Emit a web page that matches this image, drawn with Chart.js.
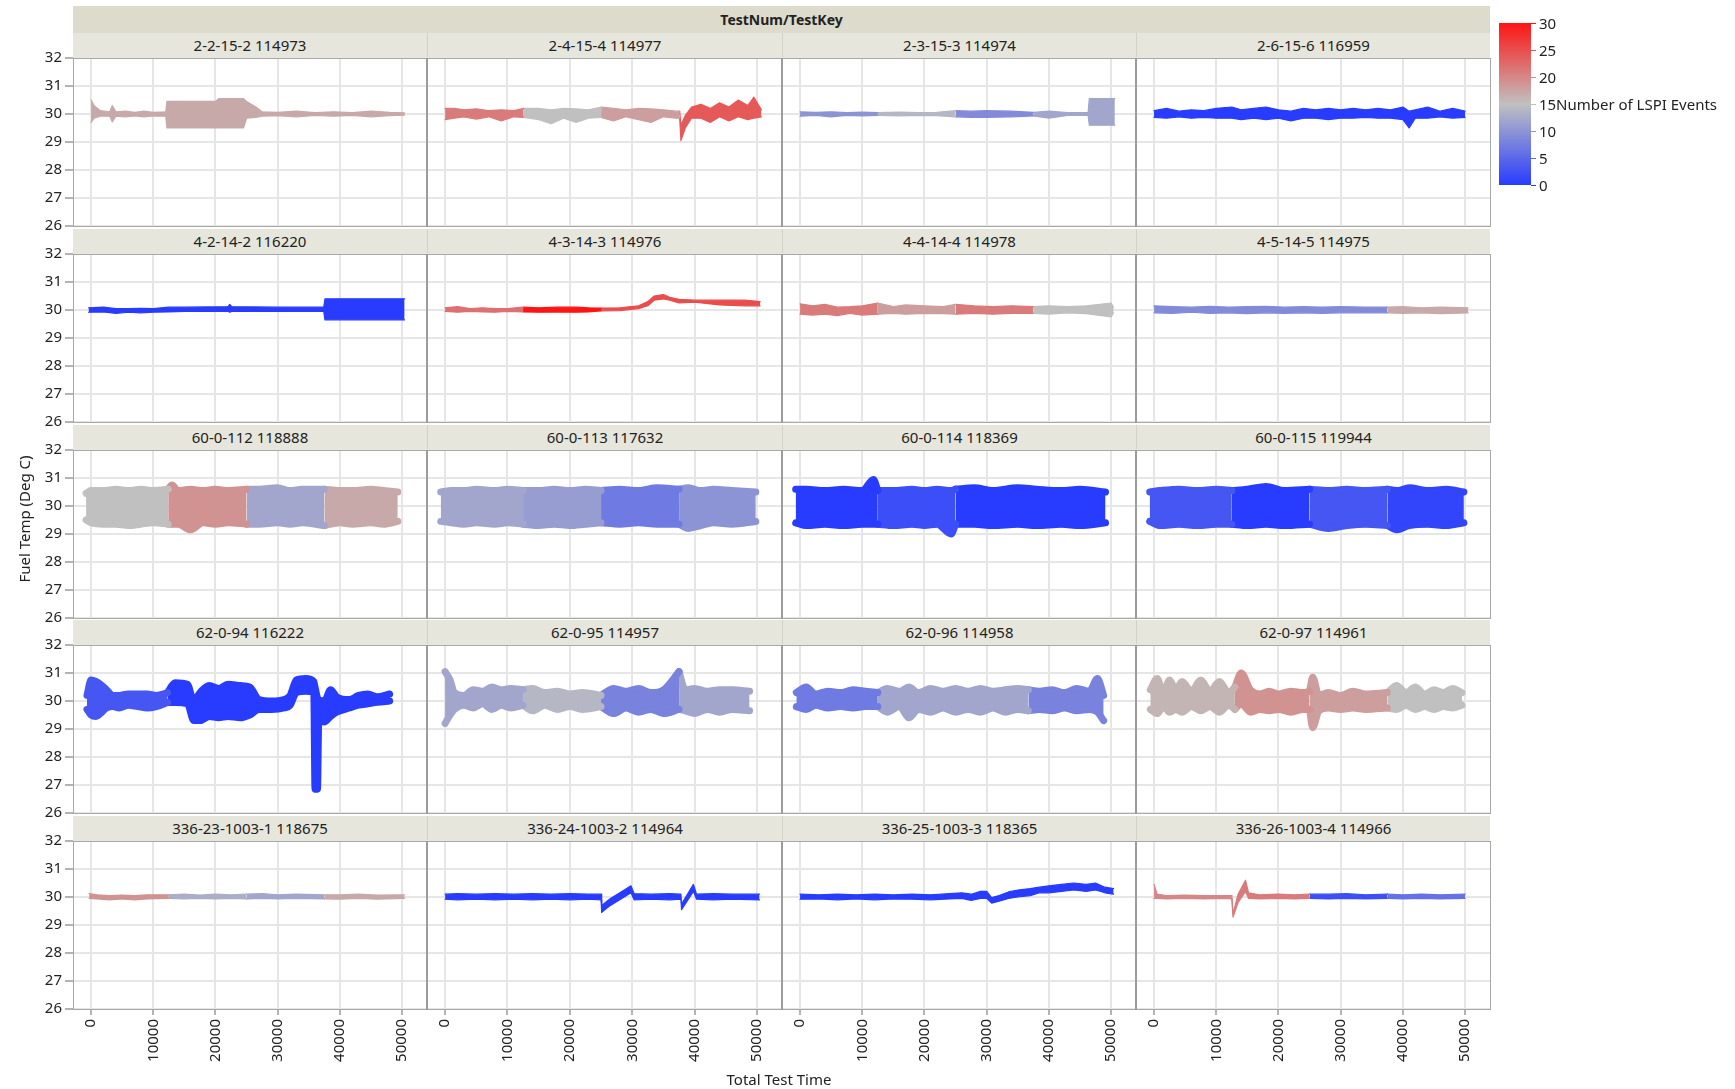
<!DOCTYPE html>
<html>
<head>
<meta charset="utf-8">
<title>Fuel Temp vs Total Test Time</title>
<script src="https://cdn.jsdelivr.net/npm/chart.js@4.4.0/dist/chart.umd.min.js"></script>
<style>
  body { margin: 0; width: 1735px; height: 1089px; overflow: hidden; position: relative; background: #fff;
         font-family: 'Noto Sans', 'Open Sans', sans-serif; color: #222; }
  .abs { position: absolute; box-sizing: border-box; }
  .header { background: #dcdbcc; font-weight: bold; font-size: 14px; text-align: center; }
  .band { background: #e6e6dd; font-size: 15px; text-align: center; white-space: nowrap; }
  .frame { border: 1px solid #a8a8a8; pointer-events: none; }
  .sep { background: #9c9c9c; }
  .lbl { font-size: 15px; white-space: nowrap; }
</style>
</head>
<body>
<script>
// ---- axes / legend ----
const xTicks = [0, 10000, 20000, 30000, 40000, 50000];
const yTicks = [26, 27, 28, 29, 30, 31, 32];
const legendTicks = [0, 5, 10, 15, 20, 25, 30];

const panelTitles = [
  '2-2-15-2 114973', '2-4-15-4 114977', '2-3-15-3 114974', '2-6-15-6 116959',
  '4-2-14-2 116220', '4-3-14-3 114976', '4-4-14-4 114978', '4-5-14-5 114975',
  '60-0-112 118888', '60-0-113 117632', '60-0-114 118369', '60-0-115 119944',
  '62-0-94 116222', '62-0-95 114957', '62-0-96 114958', '62-0-97 114961',
  '336-23-1003-1 118675', '336-24-1003-2 114964', '336-25-1003-3 118365', '336-26-1003-4 114966'
];

// ---- per panel: time, upper / lower fuel temp, LSPI run cut times, LSPI count per run ----
const t01 = [0,500,1500,3000,3400,4000,5500,7000,8500,10000,12000,12200,20000,20500,24500,25000,26500,27500,30000,33000,36000,39000,42000,45000,48000,50400];
const hi01 = [30.5,30.3,30.12,30.08,30.3,30.08,30.1,30.06,30.1,30.06,30.08,30.45,30.45,30.55,30.55,30.45,30.25,30.08,30.06,30.1,30.05,30.08,30.05,30.1,30.06,30.04];
const lo01 = [29.7,29.85,29.92,29.92,29.72,29.92,29.9,29.93,29.9,29.93,29.92,29.5,29.5,29.5,29.5,29.85,29.88,29.92,29.94,29.9,29.95,29.92,29.95,29.9,29.94,29.96];
const cut01 = [], ev01 = [17];

const t02 = [0,1500,3000,5000,7000,9000,11000,12600,15000,17000,19000,21000,23000,25000,27000,29000,31000,33000,35000,37000,37600,37800,38500,39500,41000,42500,44000,45500,47000,48500,49500,50700];
const hi02 = [30.2,30.2,30.15,30.18,30.12,30.15,30.12,30.2,30.2,30.15,30.2,30.18,30.15,30.25,30.2,30.15,30.2,30.18,30.15,30.1,30.1,29.6,29.95,30.25,30.35,30.2,30.4,30.25,30.5,30.3,30.6,30.15];
const lo02 = [29.8,29.85,29.9,29.82,29.9,29.75,29.9,29.88,29.8,29.65,29.85,29.7,29.85,29.88,29.75,29.9,29.8,29.7,29.9,29.85,29.85,29.05,29.5,29.85,29.85,29.7,29.9,29.75,29.9,29.8,29.85,29.9];
const cut02 = [12600, 25000, 37600], ev02 = [21, 15, 18, 24];

const t03 = [0,2500,5000,7500,10000,12500,16000,19000,22000,25000,27500,30000,34000,37500,40000,43000,46300,46500,50600];
const hi03 = [30.08,30.06,30.08,30.05,30.07,30.05,30.07,30.05,30.06,30.12,30.1,30.12,30.1,30.06,30.1,30.05,30.05,30.55,30.55];
const lo03 = [29.92,29.95,29.9,29.95,29.93,29.95,29.93,29.95,29.94,29.9,29.88,29.88,29.9,29.93,29.85,29.95,29.95,29.6,29.6];
const cut03 = [12500, 25000, 37500], ev03 = [10, 14, 9, 12];

const t04 = [0,2000,4000,6000,8000,10000,12500,14000,16000,18000,20000,22000,24000,26000,28000,30000,32000,34000,36000,38000,40000,41000,42000,44000,46000,48000,50000];
const hi04 = [30.12,30.2,30.1,30.15,30.12,30.2,30.25,30.15,30.2,30.25,30.15,30.1,30.2,30.15,30.2,30.15,30.2,30.15,30.2,30.15,30.25,30.1,30.15,30.25,30.1,30.2,30.1];
const lo04 = [29.88,29.85,29.9,29.85,29.88,29.85,29.85,29.8,29.85,29.8,29.85,29.75,29.85,29.85,29.8,29.85,29.85,29.88,29.85,29.85,29.8,29.5,29.85,29.85,29.9,29.85,29.88];
const cut04 = [], ev04 = [0];

const t05 = [-400,2000,4000,6000,8000,10000,12500,15000,22000,22300,22600,30000,37400,37600,50400];
const hi05 = [30.08,30.1,30.05,30.05,30.06,30.05,30.1,30.1,30.12,30.2,30.12,30.1,30.1,30.4,30.4];
const lo05 = [29.92,29.93,29.88,29.92,29.9,29.92,29.93,29.95,29.95,29.92,29.95,29.95,29.95,29.65,29.65];
const cut05 = [], ev05 = [0];

const t06 = [0,2000,4000,6000,8000,10000,12500,15000,18000,21000,23000,25000,28000,31000,32500,33500,35000,36000,37500,40000,44000,48000,50500];
const hi06 = [30.08,30.12,30.05,30.08,30.05,30.05,30.1,30.08,30.1,30.1,30.08,30.07,30.08,30.15,30.3,30.5,30.55,30.45,30.38,30.35,30.35,30.35,30.3];
const lo06 = [29.95,29.92,29.95,29.93,29.92,29.95,29.93,29.92,29.93,29.92,29.93,29.97,29.98,30.05,30.15,30.35,30.4,30.35,30.25,30.28,30.18,30.15,30.15];
const cut06 = [12500, 25000], ev06 = [22, 30, 25];

const t07 = [0,2000,4000,6000,8000,10000,12500,15000,17000,20000,23000,25000,28000,31000,34000,37500,40000,43000,46000,50000,50400];
const hi07 = [30.22,30.15,30.2,30.1,30.12,30.15,30.25,30.12,30.18,30.15,30.12,30.2,30.15,30.12,30.15,30.12,30.15,30.12,30.15,30.25,30.1];
const lo07 = [29.85,29.82,29.85,29.8,29.88,29.82,29.85,29.88,29.85,29.88,29.87,29.85,29.88,29.85,29.88,29.88,29.85,29.9,29.87,29.75,29.9];
const cut07 = [12500, 25000, 37500], ev07 = [21, 18, 21, 15];

const t08 = [0,3000,6000,9000,12000,15000,18000,21000,24000,27000,30000,34000,37500,40000,43000,46000,50500];
const hi08 = [30.15,30.12,30.1,30.13,30.1,30.12,30.13,30.1,30.12,30.1,30.12,30.1,30.1,30.12,30.08,30.1,30.08];
const lo08 = [29.9,29.88,29.92,29.88,29.9,29.87,29.9,29.88,29.9,29.88,29.9,29.9,29.9,29.88,29.9,29.87,29.9];
const cut08 = [37500], ev08 = [9, 17];

const t09 = [-800,0,2000,4000,6000,8000,10000,12400,13000,14000,16000,18000,20000,22000,25000,27000,30000,32000,34000,37500,40000,42000,45000,47000,49300];
const hi09 = [30.45,30.55,30.55,30.6,30.55,30.6,30.55,30.6,30.75,30.55,30.6,30.55,30.6,30.55,30.6,30.6,30.65,30.55,30.6,30.6,30.55,30.55,30.6,30.55,30.5];
const lo09 = [29.5,29.4,29.35,29.35,29.3,29.35,29.4,29.35,29.35,29.35,29.15,29.4,29.35,29.4,29.35,29.35,29.4,29.35,29.4,29.3,29.4,29.35,29.4,29.35,29.45];
const cut09 = [12400, 25000, 37500], ev09 = [15, 19, 12, 17];

const t10 = [-700,1000,3000,5000,8000,10000,12500,15000,17500,20000,22500,25000,28000,31000,34000,37500,39000,41000,43000,46000,49800];
const hi10 = [30.5,30.55,30.55,30.6,30.55,30.6,30.55,30.55,30.6,30.55,30.6,30.55,30.6,30.55,30.65,30.6,30.65,30.55,30.6,30.55,30.5];
const lo10 = [29.45,29.4,29.35,29.4,29.35,29.4,29.35,29.3,29.35,29.3,29.35,29.4,29.35,29.4,29.35,29.35,29.2,29.3,29.4,29.35,29.45];
const cut10 = [12500, 25000, 37500], ev10 = [12, 11, 7, 10];

const t11 = [-700,1000,4000,7000,10000,11800,12500,15000,18000,20000,22000,24300,25000,28000,31000,35000,38000,42000,45000,49100];
const hi11 = [30.6,30.6,30.55,30.6,30.55,30.95,30.55,30.55,30.6,30.55,30.6,30.55,30.6,30.65,30.55,30.65,30.6,30.55,30.6,30.5];
const lo11 = [29.4,29.3,29.35,29.3,29.35,29.35,29.35,29.3,29.35,29.3,29.35,29.0,29.35,29.35,29.3,29.35,29.3,29.35,29.3,29.4];
const cut11 = [12500, 25000], ev11 = [0, 2, 0];

const t12 = [-700,1000,4000,7000,10000,12500,15000,18000,21000,25000,28000,31000,34000,37500,39000,41000,44000,47000,49800];
const hi12 = [30.5,30.55,30.6,30.55,30.6,30.55,30.6,30.7,30.55,30.6,30.55,30.6,30.55,30.6,30.55,30.65,30.55,30.6,30.5];
const lo12 = [29.45,29.3,29.35,29.3,29.35,29.35,29.3,29.35,29.3,29.35,29.2,29.3,29.35,29.3,29.15,29.3,29.35,29.3,29.4];
const cut12 = [12500, 25000, 37500], ev12 = [3, 0, 3, 1];

const t13 = [-650,0,800,1500,2500,3500,4500,6000,7500,9000,10500,12300,13500,15500,16500,17500,19000,20500,22000,24000,25500,27000,29000,31000,32000,33000,34500,35800,36000,36400,36600,37500,38500,39500,41500,43000,44500,46000,48000];
const hi13 = [30.2,30.75,30.7,30.6,30.4,30.2,30.2,30.25,30.25,30.25,30.2,30.3,30.65,30.6,30.0,30.3,30.55,30.45,30.6,30.55,30.5,30.05,30.0,30.05,30.2,30.75,30.8,30.7,30.5,30.1,30.05,30.0,30.4,30.15,30.05,30.2,30.25,30.15,30.25];
const lo13 = [29.7,29.5,29.45,29.55,29.75,29.8,29.75,29.85,29.8,29.75,29.8,29.95,29.95,29.9,29.3,29.3,29.45,29.4,29.45,29.4,29.5,29.7,29.7,29.75,29.85,30.3,30.35,30.3,26.85,26.85,29.3,29.25,29.45,29.6,29.75,29.85,29.9,29.95,30.0];
const cut13 = [12300], ev13 = [3, 0];

const t14 = [0,800,1500,3000,4500,6000,7500,9000,10500,12500,14000,16000,18000,20000,22000,25000,27000,29000,31000,33000,35000,37500,38500,40000,42000,44000,46000,48800];
const hi14 = [31.05,30.75,30.3,30.2,30.4,30.35,30.5,30.4,30.45,30.4,30.45,30.3,30.35,30.25,30.3,30.2,30.45,30.35,30.45,30.3,30.4,31.05,30.4,30.45,30.35,30.4,30.4,30.35];
const lo14 = [29.2,29.5,29.7,29.85,29.75,29.9,29.7,29.85,29.75,29.85,29.65,29.85,29.7,29.8,29.7,29.8,29.55,29.75,29.6,29.7,29.55,29.7,29.65,29.55,29.7,29.6,29.7,29.65];
const cut14 = [12500, 25000, 37500], ev14 = [12, 14, 8, 12];

const t15 = [-600,1000,2500,4500,6500,8500,10500,12500,14000,16000,17500,19000,21000,23000,25000,27000,29000,31000,33000,35000,36700,38500,40500,42500,44500,46500,47800,48800];
const hi15 = [30.3,30.5,30.25,30.35,30.3,30.4,30.35,30.3,30.45,30.35,30.5,30.3,30.45,30.35,30.45,30.35,30.45,30.35,30.4,30.45,30.4,30.35,30.4,30.3,30.45,30.35,30.8,30.2];
const lo15 = [29.8,29.7,29.85,29.75,29.8,29.75,29.8,29.8,29.6,29.8,29.4,29.7,29.6,29.75,29.6,29.7,29.6,29.75,29.6,29.7,29.65,29.7,29.65,29.75,29.65,29.7,29.6,29.3];
const cut15 = [12500, 36700], ev15 = [7, 12, 8];

const t16 = [-600,500,1500,2500,3500,4500,6000,7500,9000,10500,12000,13000,14000,15500,17000,18500,20000,22000,24000,25000,25500,26500,28000,30000,32000,34000,37500,39000,40500,42000,43500,45000,46500,48000,49500];
const hi16 = [30.4,30.8,30.3,30.75,30.4,30.7,30.35,30.75,30.35,30.7,30.3,30.5,31.0,30.4,30.25,30.35,30.25,30.35,30.3,30.35,30.85,30.2,30.3,30.2,30.35,30.25,30.3,30.55,30.3,30.5,30.25,30.4,30.3,30.45,30.3];
const lo16 = [29.7,29.55,29.8,29.6,29.7,29.6,29.8,29.65,29.8,29.6,29.85,29.7,29.9,29.6,29.7,29.65,29.7,29.6,29.7,29.7,29.05,29.65,29.75,29.7,29.75,29.7,29.75,29.7,29.85,29.7,29.8,29.7,29.8,29.75,29.85];
const cut16 = [13000, 25000, 37500], ev16 = [16, 19, 18, 15];

const t17 = [-300,1000,3000,5000,7000,9000,12500,15000,17500,20000,22500,25000,27500,30000,33000,37500,40000,43000,46000,50400];
const hi17 = [30.12,30.08,30.05,30.07,30.05,30.08,30.08,30.1,30.07,30.1,30.08,30.1,30.12,30.08,30.1,30.08,30.08,30.1,30.07,30.08];
const lo17 = [29.95,29.93,29.9,29.93,29.9,29.93,29.95,29.93,29.95,29.93,29.95,29.93,29.95,29.93,29.95,29.93,29.92,29.95,29.92,29.95];
const cut17 = [12500, 25000, 37500], ev17 = [19, 13, 12, 17];

const t18 = [0,2000,5000,8000,11000,14000,17000,20000,23000,25000,25100,26500,28000,29800,30300,33000,36000,37800,37900,39800,40300,43000,46000,50400];
const hi18 = [30.1,30.12,30.1,30.12,30.1,30.12,30.1,30.12,30.1,30.1,29.7,29.95,30.15,30.4,30.12,30.1,30.12,30.1,29.75,30.45,30.1,30.12,30.1,30.1];
const lo18 = [29.92,29.9,29.92,29.9,29.92,29.9,29.92,29.9,29.92,29.9,29.45,29.7,29.9,30.15,29.9,29.92,29.9,29.92,29.55,30.2,29.92,29.9,29.92,29.9];
const cut18 = [], ev18 = [0];

const t19 = [0,3000,6000,9000,12000,15000,18000,21000,24000,26000,27500,29000,30000,30800,32000,33500,35000,37000,38500,40000,42000,44000,46000,47500,49000,50400];
const hi19 = [30.1,30.08,30.1,30.08,30.1,30.08,30.1,30.08,30.12,30.15,30.1,30.2,30.2,29.98,30.05,30.18,30.25,30.3,30.35,30.4,30.45,30.5,30.45,30.5,30.35,30.3];
const lo19 = [29.92,29.93,29.9,29.93,29.9,29.93,29.92,29.9,29.93,29.95,29.88,29.95,29.95,29.78,29.85,29.95,30.0,30.05,30.15,30.15,30.2,30.25,30.2,30.25,30.15,30.1];
const cut19 = [], ev19 = [0];

const t20 = [0,500,2000,5000,8000,11000,12500,12700,13500,14700,15200,17000,20000,22500,25000,28000,31000,34000,37500,40000,43000,46000,50000];
const hi20 = [30.45,30.1,30.05,30.07,30.05,30.05,30.05,29.4,30.1,30.6,30.15,30.08,30.1,30.08,30.1,30.1,30.12,30.08,30.1,30.08,30.1,30.08,30.1];
const lo20 = [29.95,29.95,29.93,29.95,29.93,29.95,29.93,29.28,29.8,30.2,29.95,29.93,29.95,29.93,29.95,29.93,29.95,29.93,29.95,29.93,29.95,29.93,29.95];
const cut20 = [12500, 25000, 37500], ev20 = [20, 21, 2, 6];

const panelTimes = [t01,t02,t03,t04,t05,t06,t07,t08,t09,t10,t11,t12,t13,t14,t15,t16,t17,t18,t19,t20];
const panelHi = [hi01,hi02,hi03,hi04,hi05,hi06,hi07,hi08,hi09,hi10,hi11,hi12,hi13,hi14,hi15,hi16,hi17,hi18,hi19,hi20];
const panelLo = [lo01,lo02,lo03,lo04,lo05,lo06,lo07,lo08,lo09,lo10,lo11,lo12,lo13,lo14,lo15,lo16,lo17,lo18,lo19,lo20];
const panelCuts = [cut01,cut02,cut03,cut04,cut05,cut06,cut07,cut08,cut09,cut10,cut11,cut12,cut13,cut14,cut15,cut16,cut17,cut18,cut19,cut20];
const panelEvents = [ev01,ev02,ev03,ev04,ev05,ev06,ev07,ev08,ev09,ev10,ev11,ev12,ev13,ev14,ev15,ev16,ev17,ev18,ev19,ev20];

// ---- layout ----
const X_MIN = -2900, X_MAX = 54000, Y_MIN = 26, Y_MAX = 32;
const GRID_L = 73, GRID_T = 58, CELL_W = 354.25, PLOT_H = 168, ROW_STEP = 195.75, BAND_H = 25;
const Y_AXIS_W = 73, X_AXIS_H = 75, M = 14;
const FONT = "'Noto Sans', 'Open Sans', sans-serif";

// blue (0) -> grey (15) -> red (30)
const lowRGB = [40, 60, 255], midRGB = [192, 192, 192], highRGB = [255, 20, 20];
function lspiColor(n) {
    const f = n / 15;
    const [a, b, u] = f <= 1 ? [lowRGB, midRGB, f] : [midRGB, highRGB, f - 1];
    return 'rgb(' + a.map((v, i) => Math.round(v + (b[i] - v) * u)).join(',') + ')';
}

function el(cls, x, y, w, h, text) {
    const d = document.createElement('div');
    d.className = 'abs ' + cls;
    Object.assign(d.style, { left: x + 'px', top: y + 'px' });
    if (w != null) d.style.width = w + 'px';
    if (h != null) { d.style.height = h + 'px'; d.style.lineHeight = h + 'px'; }
    if (text != null) d.textContent = text;
    document.body.appendChild(d);
    return d;
}

function buildDatasets(p, thick) {
    const t = panelTimes[p], hi = panelHi[p], lo = panelLo[p];
    const bounds = [-Infinity, ...panelCuts[p], Infinity];
    const sets = [];
    panelEvents[p].forEach((ev, k) => {
        const idx = t.map((v, i) => i).filter(i => t[i] >= bounds[k] && t[i] <= bounds[k + 1]);
        const col = lspiColor(ev);
        const common = {
            borderColor: col, backgroundColor: col,
            borderWidth: thick ? 7 : 1.2,
            pointRadius: 0,
            borderJoinStyle: 'round', borderCapStyle: 'round',
            cubicInterpolationMode: thick ? 'monotone' : 'default'
        };
        sets.push({ ...common, data: idx.map(i => ({ x: t[i], y: lo[i] })), fill: false });
        sets.push({ ...common, data: idx.map(i => ({ x: t[i], y: hi[i] })), fill: '-1' });
    });
    return sets;
}

function zeroPad(s) { s.paddingLeft = s.paddingRight = s.paddingTop = s.paddingBottom = 0; }

// header
el('header', GRID_L, 6, Math.round(CELL_W * 4), 27, 'TestNum/TestKey');

for (let p = 0; p < 20; p++) {
    const r = Math.floor(p / 4), c = p % 4;
    const L = Math.round(GRID_L + c * CELL_W);
    const W = Math.round(GRID_L + (c + 1) * CELL_W) - L;
    const T = Math.round(GRID_T + r * ROW_STEP);
    const firstCol = c === 0, lastRow = r === 4;
    const thick = r === 2 || r === 3;

    const band = el('band', L, T - BAND_H, W, BAND_H, panelTitles[p]);
    if (c > 0) band.style.borderLeft = '1px solid #d2d2c6';

    const cv = document.createElement('canvas');
    const cw = W + (firstCol ? Y_AXIS_W : 0) + 2 * M;
    const ch = PLOT_H + (lastRow ? X_AXIS_H : 0) + 2 * M;
    cv.width = cw; cv.height = ch;
    cv.className = 'abs';
    Object.assign(cv.style, { left: (L - (firstCol ? Y_AXIS_W : 0) - M) + 'px', top: (T - M) + 'px', width: cw + 'px', height: ch + 'px' });
    document.body.appendChild(cv);

    new Chart(cv, {
        type: 'line',
        data: { datasets: buildDatasets(p, thick) },
        options: {
            responsive: false,
            animation: false,
            devicePixelRatio: 1,
            layout: { padding: M },
            plugins: { legend: { display: false }, tooltip: { enabled: false } },
            scales: {
                x: {
                    type: 'linear', min: X_MIN, max: X_MAX,
                    afterBuildTicks: s => { s.ticks = xTicks.map(v => ({ value: v })); },
                    afterFit: s => { s.height = lastRow ? X_AXIS_H : 0; zeroPad(s); },
                    border: { display: false },
                    grid: { color: '#e6e6e6', lineWidth: 2, drawTicks: lastRow, tickLength: 6, tickColor: '#9a9a9a', tickWidth: 1.5 },
                    ticks: {
                        display: lastRow, minRotation: 90, maxRotation: 90, autoSkip: false, padding: 4,
                        color: '#222', font: { family: FONT, size: 15 },
                        callback: v => String(v)
                    }
                },
                y: {
                    min: Y_MIN, max: Y_MAX,
                    afterBuildTicks: s => { s.ticks = yTicks.map(v => ({ value: v })); },
                    afterFit: s => { s.width = firstCol ? Y_AXIS_W : 0; zeroPad(s); },
                    border: { display: false },
                    grid: { color: '#e6e6e6', lineWidth: 2, drawTicks: firstCol, tickLength: 8, tickColor: '#9a9a9a', tickWidth: 1.5 },
                    ticks: { display: firstCol, padding: 3, color: '#222', font: { family: FONT, size: 15 } }
                }
            }
        }
    });

    const fr = el('frame', L, T, W + 1, PLOT_H + 1);
    fr.style.zIndex = 2;
    if (c > 0) {
        const s = el('sep', L - 1, T, 2, PLOT_H + 1);
        s.style.zIndex = 3;
    }
}

// axis titles
const yt = el('lbl', 24, 519, null, null, 'Fuel Temp (Deg C)');
yt.style.transform = 'translate(-50%, -50%) rotate(-90deg)';
const xt = el('lbl', 779, 1079, null, null, 'Total Test Time');
xt.style.transform = 'translate(-50%, -50%)';

// colour legend
const LEG_X = 1499, LEG_TOP = 23, LEG_BOT = 185, LEG_W = 32;
const bar = el('', LEG_X, LEG_TOP, LEG_W, LEG_BOT - LEG_TOP);
bar.style.background = `linear-gradient(to bottom, ${lspiColor(30)}, ${lspiColor(15)}, ${lspiColor(0)})`;
legendTicks.forEach(v => {
    const y = LEG_BOT - v / 30 * (LEG_BOT - LEG_TOP);
    const tk = el('', LEG_X + LEG_W, y - 0.5, 5, 1);
    tk.style.background = lspiColor(v);
    const lb = el('lbl', LEG_X + LEG_W + 8, y, null, null, String(v));
    lb.style.transform = 'translateY(-50%)';
});
const lt = el('lbl', 1556, LEG_BOT - 15 / 30 * (LEG_BOT - LEG_TOP), null, null, 'Number of LSPI Events');
lt.style.transform = 'translateY(-50%)';
</script>
</body>
</html>
